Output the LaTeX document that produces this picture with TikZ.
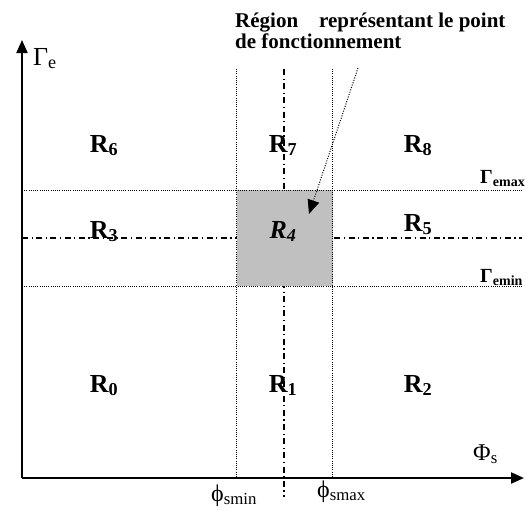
\documentclass[tikz,border=0pt]{standalone}
\usepackage{fontspec}
\setmainfont{Liberation Serif}
\usetikzlibrary{arrows.meta}
\definecolor{boxgray}{RGB}{192,192,192}
\tikzset{
  axis/.style={line width=2pt,-{Triangle[length=13pt,width=11pt]}},
  limline/.style={line width=1pt,dash pattern=on 1pt off 1.2pt},
  midline/.style={line width=1.2pt,dash pattern=on 6pt off 3.5pt on 1.2pt off 3.5pt},
  reglab/.style={anchor=base,inner sep=0pt,font=\fontsize{26}{30}\selectfont\bfseries},
  gamlab/.style={anchor=base west,inner sep=0pt,font=\fontsize{24}{28}\selectfont},
  titlab/.style={anchor=base west,inner sep=0pt,font=\fontsize{21}{24}\selectfont\bfseries},
  pointer/.style={line width=1pt,dash pattern=on 1pt off 1.5pt,-{Triangle[length=14pt,width=12pt]}}
}
\begin{document}
\begin{tikzpicture}[x=1pt,y=-1pt]
\useasboundingbox (0,0) rectangle (526,509);
% coordinates
\coordinate (O) at (22,478);
\coordinate (Ytop) at (22,40);
\coordinate (Xend) at (524,478);
\coordinate (vminT) at (236,69);
\coordinate (vminB) at (236,478);
\coordinate (vmaxT) at (332,69);
\coordinate (vmaxB) at (332,478);
\coordinate (vmidT) at (284,69);
\coordinate (vmidB) at (284,497);
\coordinate (hmaxL) at (22,190);
\coordinate (hmaxR) at (522,190);
\coordinate (hminL) at (22,286);
\coordinate (hminR) at (522,286);
\coordinate (hmidL) at (22,238);
\coordinate (hmidR) at (522,238);
\coordinate (pstart) at (358,68);
\coordinate (pend) at (309,214);
% dash-dot mid lines
\draw[midline] (vmidT) -- (vmidB);
\draw[midline] (hmidL) -- (hmidR);
% grey region
\fill[boxgray] (237,190) rectangle (333,286);
% dotted limit lines
\draw[limline] (vminT) -- (vminB);
\draw[limline] (vmaxT) -- (vmaxB);
\draw[limline] (hmaxL) -- (hmaxR);
\draw[limline] (hminL) -- (hminR);
% axes
\draw[axis] (O) -- (Ytop);
\draw[axis] (O) -- (Xend);
% pointer arrow
\draw[pointer] (pstart) -- (pend);
% title
\node[titlab] (t1) at (235,27) {Région\ \ \ \ représentant le point};
\node[titlab] (t2) at (235,48) {de fonctionnement};
% region labels
\node[reglab] (r6) at (104,152) {R\textsubscript{6}};
\node[reglab] (r7) at (283,152) {R\textsubscript{7}};
\node[reglab] (r8) at (418,152) {R\textsubscript{8}};
\node[reglab] (r3) at (104,238) {R\textsubscript{3}};
\node[reglab] (r4) at (283,238) {\itshape R\textsubscript{4}};
\node[reglab] (r5) at (418,231) {R\textsubscript{5}};
\node[reglab] (r0) at (104,392) {R\textsubscript{0}};
\node[reglab] (r1) at (283,392) {R\textsubscript{1}};
\node[reglab] (r2) at (418,392) {R\textsubscript{2}};
% axis labels
\node[gamlab,font=\fontsize{26}{30}\selectfont] (ge) at (33,65) {Γ\textsubscript{e}};
\node[gamlab,font=\fontsize{20}{24}\selectfont\bfseries] (gmax) at (480,183) {Γ\textsubscript{emax}};
\node[gamlab,font=\fontsize{20}{24}\selectfont\bfseries] (gmin) at (480,282) {Γ\textsubscript{emin}};
\node[gamlab] (ps) at (473,460) {Φ\textsubscript{s}};
\node[gamlab] (pmin) at (211,501) {ϕ\textsubscript{smin}};
\node[gamlab] (pmax) at (317,497) {ϕ\textsubscript{smax}};
\end{tikzpicture}
\end{document}
